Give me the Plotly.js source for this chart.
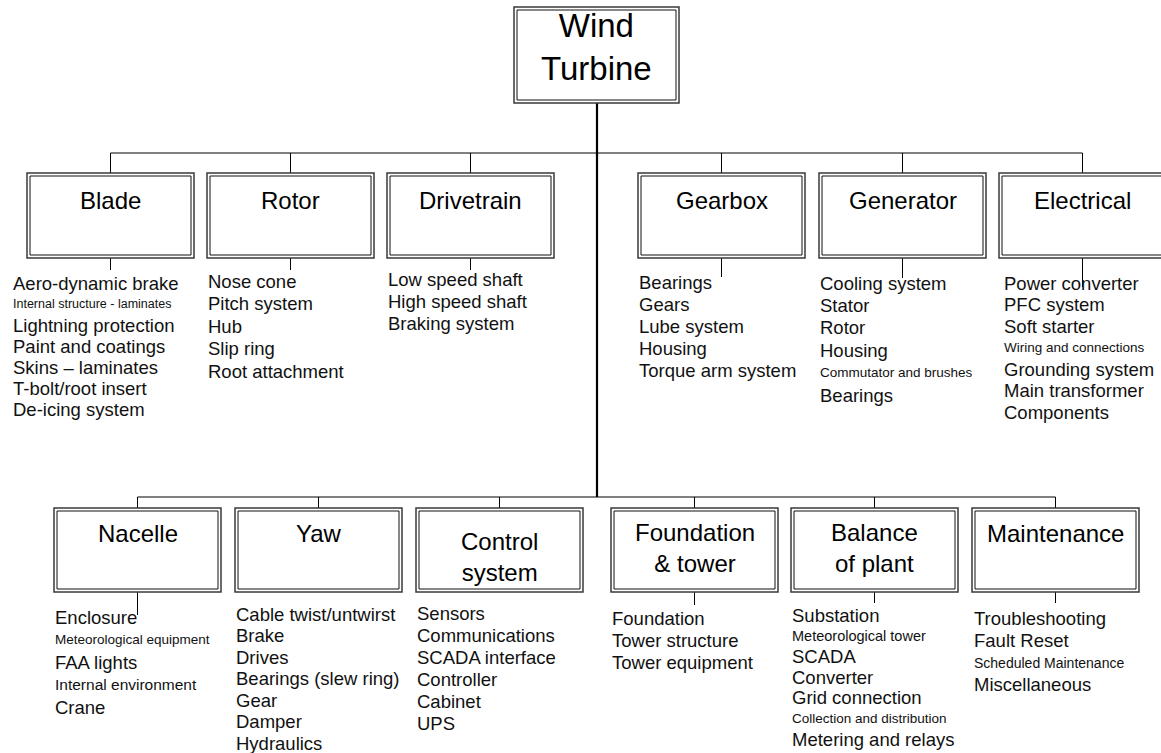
<!DOCTYPE html>
<html>
<head>
<meta charset="utf-8">
<script src="https://cdn.plot.ly/plotly-3.0.1.min.js"></script>
<style>html,body{margin:0;padding:0;background:#fff;}#chart{width:1161px;height:753px;}</style>
</head>
<body>
<div id="chart"></div>
<script>
// ---------- DATA ----------
const rootLabel = "Wind<br>Turbine";

const topCategories = ["Blade", "Rotor", "Drivetrain", "Gearbox", "Generator", "Electrical"];
const topItems = [
  ["Aero-dynamic brake", "Internal structure - laminates", "Lightning protection", "Paint and coatings", "Skins \u2013 laminates", "T-bolt/root insert", "De-icing system"],
  ["Nose cone", "Pitch system", "Hub", "Slip ring", "Root attachment"],
  ["Low speed shaft", "High speed shaft", "Braking system"],
  ["Bearings", "Gears", "Lube system", "Housing", "Torque arm system"],
  ["Cooling system", "Stator", "Rotor", "Housing", "Commutator and brushes", "Bearings"],
  ["Power converter", "PFC system", "Soft starter", "Wiring and connections", "Grounding system", "Main transformer", "Components"]
];

const bottomCategories = ["Nacelle", "Yaw", "Control<br>system", "Foundation<br>& tower", "Balance<br>of plant", "Maintenance"];
const bottomItems = [
  ["Enclosure", "Meteorological equipment", "FAA lights", "Internal environment", "Crane"],
  ["Cable twist/untwirst", "Brake", "Drives", "Bearings (slew ring)", "Gear", "Damper", "Hydraulics"],
  ["Sensors", "Communications", "SCADA interface", "Controller", "Cabinet", "UPS"],
  ["Foundation", "Tower structure", "Tower equipment"],
  ["Substation", "Meteorological tower", "SCADA", "Converter", "Grid connection", "Collection and distribution", "Metering and relays"],
  ["Troubleshooting", "Fault Reset", "Scheduled Maintenance", "Miscellaneous"]
];

// ---------- LAYOUT (positions / styles, pixels) ----------
const FONT = "Liberation Sans, Arial, sans-serif";
const smallSizes = {
  "Internal structure - laminates": 12.5,
  "Commutator and brushes": 13.5,
  "Wiring and connections": 13.5,
  "Meteorological equipment": 13.5,
  "Internal environment": 15.5,
  "Meteorological tower": 14.5,
  "Collection and distribution": 13.5,
  "Scheduled Maintenance": 14
};
const itemSize = 18.5;
const boxW = 167;
const rows = [
  {cats: topCategories, items: topItems, boxLeft: [27, 207, 387, 638, 819, 999], boxTop: 173, boxH: 85,
   busY: 153, textX: [12, 207, 387, 638, 819, 1003], stub: [12, 12, 12, 19, 20, 29],
   titleY: [200, 200, 200, 200, 200, 200],
   itemStart: [283, 281, 279, 282, 283, 283], itemStep: [21, 22.5, 22, 22, 22.4, 21.5]},
  {cats: bottomCategories, items: bottomItems, boxLeft: [54, 235, 416, 611, 791, 972], boxTop: 508, boxH: 84,
   busY: 497, textX: [54, 235, 416, 611, 791, 973], stub: [23, 0, 0, 13, 11, 11],
   titleY: [533, 533, 557, 548, 548, 533],
   itemStart: [617, 614, 613, 618, 615, 618], itemStep: [22.5, 21.5, 22, 22, 20.7, 22.3]}
];
const root = {x0: 514, x1: 679, y0: 7, y1: 103, trunkX: 597};

const shapes = [];
const annotations = [];

function line(x0, y0, x1, y1, w, c) {
  shapes.push({type: "line", xref: "x", yref: "y", x0, y0, x1, y1, line: {color: c || "#000", width: w || 1}});
}
function dblBox(x0, y0, x1, y1) {
  shapes.push({type: "rect", xref: "x", yref: "y", x0, y0, x1, y1, fillcolor: "#fff", line: {color: "#3a3a3a", width: 1.5}});
  shapes.push({type: "rect", xref: "x", yref: "y", x0: x0 + 3, y0: y0 + 3, x1: x1 - 3, y1: y1 - 3, fillcolor: "rgba(0,0,0,0)", line: {color: "#111", width: 1}});
}

// trunk
line(root.trunkX, root.y1, root.trunkX, rows[1].busY, 2.2, "#000");
// root box
dblBox(root.x0, root.y0, root.x1, root.y1);
annotations.push({x: (root.x0 + root.x1) / 2, y: 47, xref: "x", yref: "y", text: rootLabel, showarrow: false,
  xanchor: "center", yanchor: "middle", font: {family: FONT, size: 33, color: "#000"}});

rows.forEach(r => {
  const centers = r.boxLeft.map(l => l + boxW / 2);
  line(centers[0], r.busY, centers[centers.length - 1], r.busY, 1, "#000");
  r.cats.forEach((cat, i) => {
    const cx = centers[i];
    line(cx, r.busY, cx, r.boxTop, 1, "#000");
    if (r.stub[i] > 0) line(cx, r.boxTop + r.boxH, cx, r.boxTop + r.boxH + r.stub[i], 1, "#000");
    dblBox(r.boxLeft[i], r.boxTop, r.boxLeft[i] + boxW, r.boxTop + r.boxH);
    annotations.push({x: cx, y: r.titleY[i], xref: "x", yref: "y", text: cat, showarrow: false,
      xanchor: "center", yanchor: "middle", font: {family: FONT, size: 24, color: "#000"}});
    r.items[i].forEach((it, k) => {
      annotations.push({x: r.textX[i], y: r.itemStart[i] + k * r.itemStep[i], xref: "x", yref: "y", text: it, showarrow: false,
        xanchor: "left", yanchor: "middle", borderpad: 0,
        font: {family: FONT, size: smallSizes[it] || itemSize, color: "#111"}});
    });
  });
});

const layout = {
  width: 1161, height: 753,
  margin: {l: 0, r: 0, t: 0, b: 0},
  paper_bgcolor: "#fff", plot_bgcolor: "#fff",
  showlegend: false,
  xaxis: {range: [0, 1161], visible: false, fixedrange: true},
  yaxis: {range: [753, 0], visible: false, fixedrange: true},
  shapes, annotations
};
Plotly.newPlot("chart", [{x: [], y: [], type: "scatter", mode: "markers", hoverinfo: "skip"}], layout, {displayModeBar: false, staticPlot: true});
</script>
</body>
</html>
